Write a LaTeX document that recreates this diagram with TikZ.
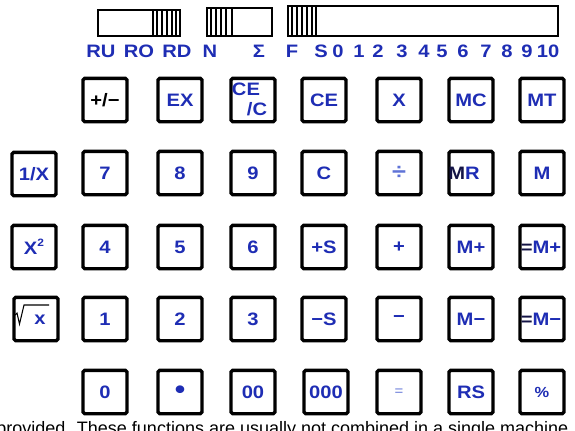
\documentclass[tikz,border=0pt]{standalone}
\usepackage{fontspec}
\setmainfont{Liberation Sans}
\newfontfamily\keyfont{Liberation Sans}[FakeStretch=1.12]
\definecolor{kblue}{RGB}{30,45,180}
\definecolor{lblue}{RGB}{95,115,215}
\definecolor{navy}{RGB}{20,20,70}
\tikzset{
  key/.style={draw=black, line width=2.5pt, rounded corners=1.2pt, fill=white,
    minimum width=33pt, minimum height=32.5pt, inner sep=0pt,
    font=\keyfont\bfseries\fontsize{13.5}{13.5}\selectfont, text=kblue},
  lab/.style={inner sep=0pt, font=\keyfont\bfseries\fontsize{13.5}{13.5}\selectfont, text=kblue},
  scl/.style={inner sep=0pt, font=\keyfont\bfseries\fontsize{13.5}{14}\selectfont, text=kblue},
  slider/.style={draw=black, line width=1.7pt, fill=white},
  hatch/.style={draw=black, line width=1.1pt},
}
\begin{document}
\begin{tikzpicture}[x=0.75pt, y=-0.75pt]
\useasboundingbox (0,0) rectangle (575,430);
\fill[white] (0,0) rectangle (575,430);
% sliders
\draw[slider] (98,10) rectangle (180,36);
\draw[line width=1.5pt] (153,10) -- (153,36);
\foreach \x in {157,162,167,172,176} \draw[hatch] (\x,11) -- (\x,35);
\draw[slider] (207,8) rectangle (272,36);
\draw[line width=1.5pt] (232,8) -- (232,36);
\foreach \x in {211,216,221,226} \draw[hatch] (\x,9) -- (\x,35);
\draw[slider] (288,6) rectangle (558,36);
\draw[line width=1.5pt] (316,6) -- (316,36);
\foreach \x in {292,297,302,307,312} \draw[hatch] (\x,7) -- (\x,35);
% scale labels
\foreach \t/\x [count=\i] in {RU/101,RO/139,RD/177,N/210,Σ/259,F/292,S/321,0/338,1/359,2/378,3/402,4/424,5/442,6/463,7/486,8/507,9/527,10/548}
  \node[scl] (s\i) at (\x,51) {\t};
% row 1
\node[key, text=black] (k11) at (105,100) {+/−};
\node[key] (k12) at (180,100) {EX};
\node[key] (k13) at (253,100) {};
\node[lab] (k13a) at (246,89.5) {CE};
\node[lab] (k13b) at (257,109) {/C};
\node[key] (k14) at (324,100) {CE};
\node[key] (k15) at (399,100) {X};
\node[key] (k16) at (471,100) {MC};
\node[key] (k17) at (542,100) {MT};
% row 2
\node[key] (k20) at (34,174) {1/X};
\node[key] (k21) at (105,173) {7};
\node[key] (k22) at (180,173) {8};
\node[key] (k23) at (253,173) {9};
\node[key] (k24) at (324,173) {C};
\node[key, text=lblue, font=\keyfont\bfseries\fontsize{17}{17}\selectfont] (k25) at (399,173) {÷};
\node[key] (k26) at (471,173) {};
\node[lab] (k26a) at (464,173) {{\color{navy}M}R};
\node[key] (k27) at (542,173) {M};
% row 3
\node[key] (k30) at (34,247) {X\raisebox{0.45em}{\fontsize{8}{8}\selectfont 2}};
\node[key] (k31) at (105,247) {4};
\node[key] (k32) at (180,247) {5};
\node[key] (k33) at (253,247) {6};
\node[key] (k34) at (324,247) {+S};
\node[key] (k35) at (399,247) {+};
\node[key] (k36) at (471,247) {M+};
\node[key] (k37) at (542,247) {};
\node[lab] (k37a) at (541,247) {{\color{navy}=}M+};
% row 4
\node[key] (k40) at (36,319) {};
\draw[black, line width=0.8pt] (15,315) -- (17,313) -- (19.5,324) -- (24,305) -- (49,305);
\node[lab] (k40a) at (40,320) {x};
\node[key] (k41) at (105,319) {1};
\node[key] (k42) at (180,319) {2};
\node[key] (k43) at (253,319) {3};
\node[key] (k44) at (324,319) {−S};
\node[key] (k45) at (399,319) {−};
\node[key] (k46) at (471,319) {M−};
\node[key] (k47) at (542,319) {};
\node[lab] (k47a) at (541,319) {{\color{navy}=}M−};
% row 5
\node[key] (k51) at (105,392) {0};
\node[key, font=\keyfont\bfseries\fontsize{20}{20}\selectfont] (k52) at (180,392) {•};
\node[key] (k53) at (253,392) {00};
\node[key] (k54) at (326,392) {000};
\node[key, text=lblue, font=\keyfont\fontsize{10}{10}\selectfont] (k55) at (399,392) {=};
\node[key] (k56) at (471,392) {RS};
\node[key] (k57) at (542,392) {\fontsize{11}{11}\selectfont\%};
% caption
\node[anchor=base west, inner sep=0pt, font=\fontsize{13.5}{14}\selectfont] (cap) at (-4,434)
  {provided. These functions are usually not combined in a single machine.};
\end{tikzpicture}
\end{document}
